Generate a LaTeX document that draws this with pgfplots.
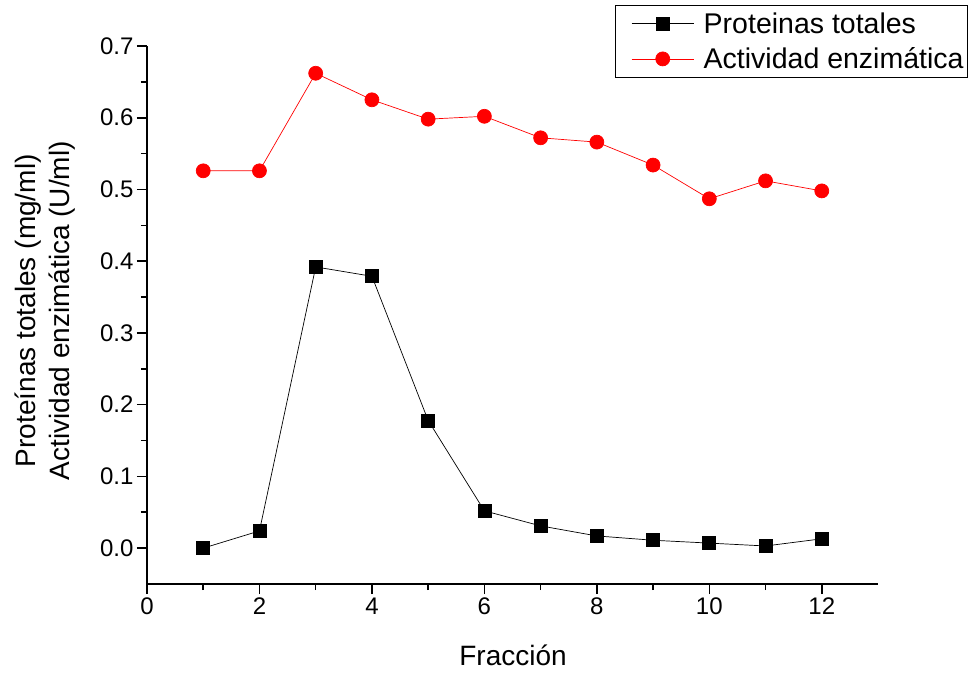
\documentclass[border=0pt]{standalone}
\usepackage{pgfplots}
\pgfplotsset{compat=1.18}
\usetikzlibrary{calc}
\usepackage{fontspec}
\setmainfont{Liberation Sans}

\begin{document}
\begin{tikzpicture}
\begin{axis}[
  name=ax,
  scale only axis,
  width=731pt, height=538pt,
  xmin=0, xmax=13,
  ymin=-0.05, ymax=0.7,
  axis x line*=bottom,
  axis y line*=left,
  x axis line style={line width=1.8pt,-},
  y axis line style={line width=1.8pt,-},
  xtick={0,2,...,12},
  ytick={0,0.1,...,0.7},
  minor x tick num=1,
  minor y tick num=1,
  tick align=outside,
  major tick length=10pt,
  minor tick length=6pt,
  major tick style={line width=1.6pt,black},
  minor tick style={line width=1.6pt,black},
  yticklabel style={/pgf/number format/fixed,/pgf/number format/fixed zerofill,/pgf/number format/precision=1},
  /pgf/number format/assume math mode=true,
  tick label style={font=\fontsize{24}{27}\selectfont},
  xlabel={Fracción},
  ylabel={Proteínas totales (mg/ml)\\Actividad enzimática (U/ml)},
  xlabel style={font=\fontsize{28}{32}\selectfont,at={(axis description cs:0.5007,-0.132)},anchor=center},
  ylabel style={font=\fontsize{28}{34}\selectfont,align=center,at={(axis description cs:-0.1395,0.508)},anchor=center},
  legend style={at={(axis description cs:1.123,1.076)},anchor=north east,draw=black,line width=0.8pt,
    font=\fontsize{28.5}{31}\selectfont,cells={anchor=west},inner xsep=2pt,inner ysep=5pt,row sep=9pt},
  legend image code/.code={
    \path[draw=none,fill=none] (-14pt,0pt) -- (70pt,0pt);
    \draw[mark repeat=2,mark phase=2] plot coordinates {(0pt,0pt) (31pt,0pt) (62pt,0pt)};},
  clip=false,
]
\addplot[black,line width=0.7pt,mark=square*,mark size=6.5pt,mark options={solid}] coordinates {
  (1,0.000) (2,0.024) (3,0.392) (4,0.379) (5,0.178) (6,0.052)
  (7,0.031) (8,0.017) (9,0.011) (10,0.007) (11,0.003) (12,0.013)
};
\addlegendentry{Proteinas totales}
\addplot[red,line width=0.7pt,mark=*,mark size=7pt,mark options={solid,fill=red}] coordinates {
  (1,0.526) (2,0.526) (3,0.662) (4,0.625) (5,0.598) (6,0.602)
  (7,0.572) (8,0.566) (9,0.534) (10,0.487) (11,0.512) (12,0.498)
};
\addlegendentry{Actividad enzimática}
\end{axis}
\pgfresetboundingbox
\path[use as bounding box] ($(ax.south west)+(-147pt,-88pt)$) rectangle ($(ax.south west)+(822pt,584pt)$);
\end{tikzpicture}
\end{document}
